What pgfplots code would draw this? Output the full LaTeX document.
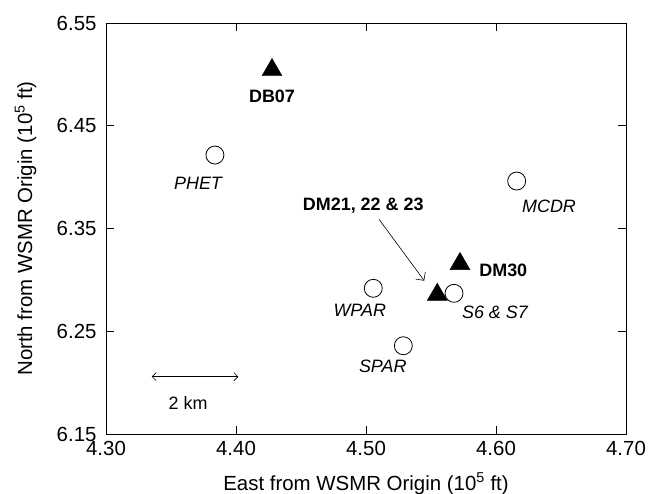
\documentclass[border=0pt]{standalone}
\usepackage{fontspec}
\setmainfont{Liberation Sans}
\usepackage{pgfplots}
\pgfplotsset{compat=1.18}
\usetikzlibrary{arrows.meta}
\begin{document}
\begin{tikzpicture}
\useasboundingbox (-106bp,-60bp) rectangle (551bp,434bp);
\begin{axis}[
  scale only axis, width=520bp, height=411bp,
  xmin=4.30, xmax=4.70, ymin=6.15, ymax=6.55,
  xtick={4.30,4.40,4.50,4.60,4.70},
  xticklabels={4.30,4.40,4.50,4.60,4.70},
  ytick={6.15,6.25,6.35,6.45,6.55},
  yticklabels={6.15,6.25,6.35,6.45,6.55},
  tick align=inside, major tick length=8bp,
  tick style={black, line width=0.8bp},
  axis line style={line width=0.9bp},
  ticklabel style={font=\fontsize{20.5}{24}\selectfont},
  xticklabel style={yshift=-4bp},
  yticklabel style={xshift=-6bp},
  xlabel={East from WSMR Origin (10\textsuperscript{5} ft)},
  ylabel={North from WSMR Origin (10\textsuperscript{5} ft)},
  label style={font=\fontsize{20.5}{24}\selectfont},
  xlabel style={at={(axis description cs:0.5,-0.1363)}, anchor=base},
  ylabel style={at={(axis description cs:-0.1423,0.5)}, anchor=base},
  clip=false,
]
% stations (triangles) and sites (circles)
\addplot[only marks, mark=triangle*, mark size=11.5bp, black] coordinates {
  (4.4277,6.5043) (4.5723,6.3156) (4.5548,6.2856)
};
\addplot[only marks, mark=*, mark size=9bp, mark options={draw=black, fill=white, line width=0.8bp}] coordinates {
  (4.3838,6.4215) (4.6159,6.3962) (4.5677,6.2869) (4.5056,6.2918) (4.5287,6.2359)
};
% scale bar and pointer
\addplot[black, line width=0.6bp, {Straight Barb[length=4bp]}-{Straight Barb[length=4bp]}] coordinates {(4.3352,6.2058) (4.4018,6.2058)};
\addplot[black, line width=0.6bp, -{Straight Barb[length=6bp]}] coordinates {(4.510,6.359) (4.5448,6.2992)};

\node[font=\fontsize{18}{20}\selectfont\bfseries] at (axis cs:4.4277,6.479) {DB07};
\node[font=\fontsize{18}{20}\selectfont\bfseries] at (axis cs:4.6056,6.3089) {DM30};
\node[font=\fontsize{18}{20}\selectfont\bfseries] at (axis cs:4.4979,6.3725) {DM21, 22 \& 23};
\node[font=\fontsize{18}{20}\selectfont\itshape] at (axis cs:4.3708,6.3943) {PHET};
\node[font=\fontsize{18}{20}\selectfont\itshape] at (axis cs:4.6408,6.3719) {MCDR};
\node[font=\fontsize{18}{20}\selectfont\itshape] at (axis cs:4.4952,6.2700) {WPAR};
\node[font=\fontsize{18}{20}\selectfont\itshape] at (axis cs:4.5992,6.2680) {S6 \& S7};
\node[font=\fontsize{18}{20}\selectfont\itshape] at (axis cs:4.5129,6.2155) {SPAR};
\node[font=\fontsize{18}{20}\selectfont] at (axis cs:4.3631,6.1805) {2 km};
\end{axis}
\end{tikzpicture}
\end{document}
